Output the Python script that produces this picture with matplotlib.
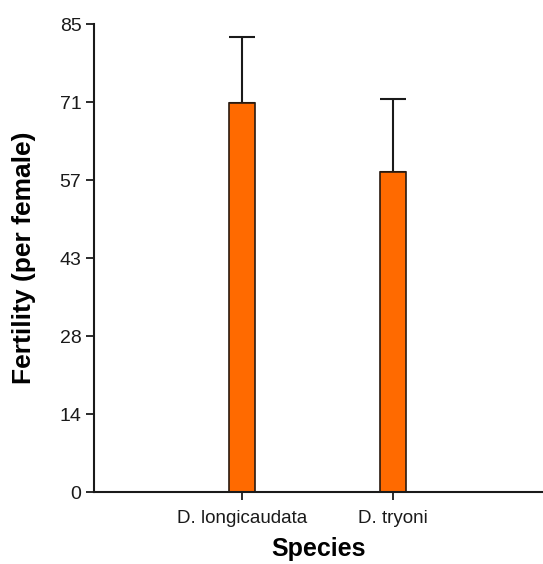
import numpy as np
import matplotlib.pyplot as plt

# Data
species = ["D. longicaudata", "D. tryoni"]
fertility = [70.7, 58.2]
err_upper = [11.9, 13.3]
ytick_labels = ["0", "14", "28", "43", "57", "71", "85"]

plt.rcParams['font.family'] = ['Liberation Sans', 'DejaVu Sans']
narrow = ['Liberation Sans Narrow', 'Liberation Sans', 'DejaVu Sans']

fig = plt.figure(figsize=(5.43, 5.64), dpi=100)
ax = fig.add_axes([0.173, 0.1275, 0.827, 0.8295])

x = np.arange(len(species))
ax.bar(x, fertility, width=0.17, color="#ff6a00", edgecolor="#2a1a10", linewidth=1.2, zorder=2)
ax.errorbar(x, fertility, yerr=[np.zeros(len(species)), err_upper], fmt="none",
            ecolor="#1a1a1a", elinewidth=1.5, capsize=9.5, capthick=1.5, zorder=1)

ax.set_xlim(-0.98, 1.99)
ax.set_ylim(0, 85)
ax.set_yticks(np.linspace(0, 85, 7))
ax.set_yticklabels(ytick_labels)
ax.set_xticks(x)
ax.set_xticklabels(species)

for s in ["top", "right"]:
    ax.spines[s].set_visible(False)
for s in ["left", "bottom"]:
    ax.spines[s].set_linewidth(1.5)
    ax.spines[s].set_color("#1a1a1a")

ax.tick_params(axis="both", direction="out", length=6, width=1.3, colors="#1a1a1a")
ax.tick_params(axis="x", labelsize=13.5, pad=7)
ax.tick_params(axis="y", labelsize=14, pad=3)

ax.set_ylabel("Fertility (per female)", fontsize=19, fontweight="bold", family=narrow, labelpad=17)
ax.set_xlabel("Species", fontsize=18, fontweight="bold", family=narrow, labelpad=7)

fig.savefig("out.png", dpi=100)
